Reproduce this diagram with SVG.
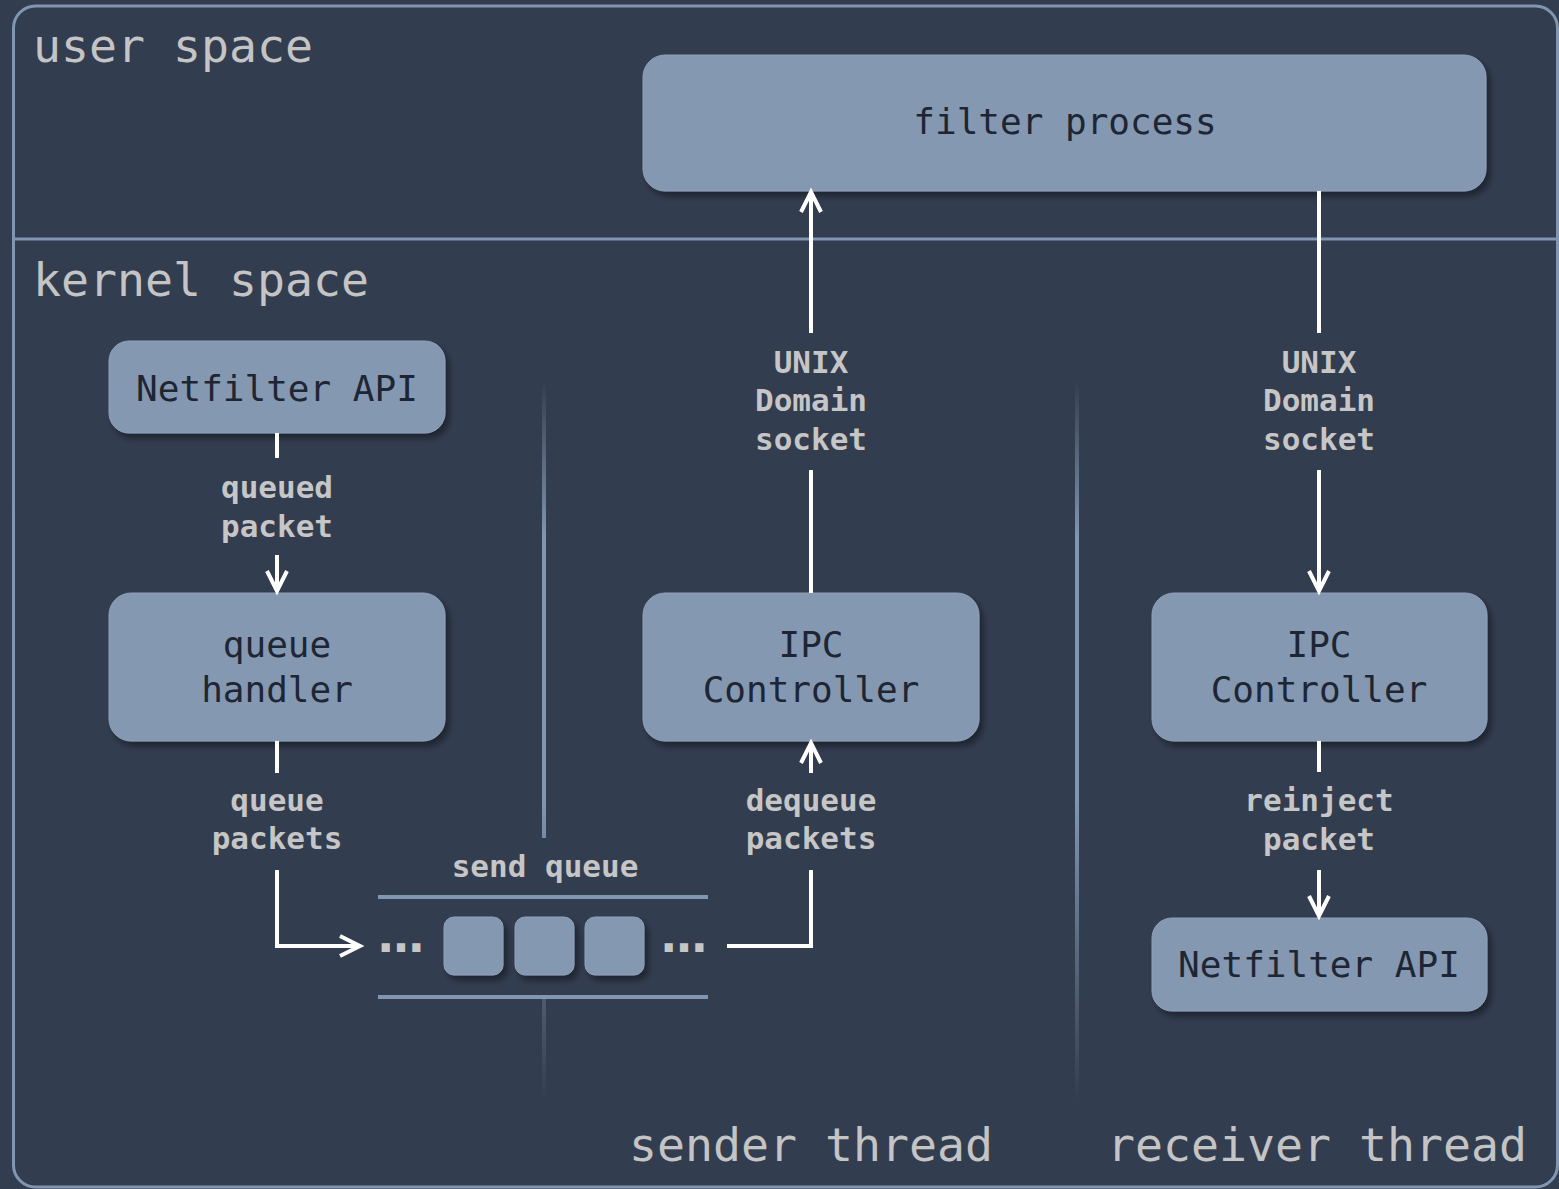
<svg xmlns="http://www.w3.org/2000/svg" width="1559" height="1189" viewBox="0 0 1559 1189">
  <style>
    .frame { fill: none; stroke: #8196b0; stroke-width: 3; }
    .node rect { fill: #8498b1; stroke: #8ea1b8; stroke-width: 1; filter: url(#shadow); }
    .node text { font-family: "DejaVu Sans Mono", "Liberation Mono", monospace; font-size: 36px; fill: #1e2533; text-anchor: middle; }
    .region { font-family: "DejaVu Sans Mono", "Liberation Mono", monospace; font-size: 46.5px; fill: #c4c4c4; }
    .lbl { font-family: "DejaVu Sans Mono", "Liberation Mono", monospace; font-size: 31px; font-weight: bold; fill: #c6c6c6; text-anchor: middle; }
    .dots { font-family: "DejaVu Sans", sans-serif; font-size: 46px; font-weight: bold; fill: #c6c6c6; text-anchor: middle; }
    .edge { fill: none; stroke: #ffffff; stroke-width: 4; }
    .arrow { marker-end: url(#chevron); }
    .qline { stroke: #8196b0; stroke-width: 4; }
    .divider { stroke-width: 4; }
  </style>
  <defs>
    <filter id="shadow" x="-10%" y="-10%" width="130%" height="140%">
      <feDropShadow dx="4" dy="5" stdDeviation="3" flood-color="#000000" flood-opacity="0.4"/>
    </filter>
    <marker id="chevron" markerUnits="userSpaceOnUse" markerWidth="30" markerHeight="30" refX="0" refY="0" orient="auto" overflow="visible">
      <path d="M -20 -10 L 0 0 L -20 10" fill="none" stroke="#ffffff" stroke-width="4" stroke-linejoin="miter"/>
    </marker>
    <linearGradient id="fade" gradientUnits="userSpaceOnUse" x1="0" y1="380" x2="0" y2="1102">
      <stop offset="0" stop-color="#8196b0" stop-opacity="0"/>
      <stop offset="0.22" stop-color="#8196b0" stop-opacity="1"/>
      <stop offset="0.58" stop-color="#8196b0" stop-opacity="1"/>
      <stop offset="1" stop-color="#8196b0" stop-opacity="0"/>
    </linearGradient>
  </defs>

  <!-- background -->
  <rect x="0" y="0" width="1559" height="1189" fill="#333d50"/>

  <!-- outer frame and user/kernel split -->
  <g id="frame">
    <rect class="frame" x="13.5" y="6" width="1544" height="1181" rx="22"/>
    <line class="frame" x1="13.5" y1="239" x2="1559" y2="239"/>
    <text class="region" x="33" y="62">user space</text>
    <text class="region" x="33" y="296">kernel space</text>
    <text class="region" x="629" y="1161">sender thread</text>
    <text class="region" x="1107" y="1161">receiver thread</text>
  </g>

  <!-- thread dividers -->
  <g id="dividers" stroke="url(#fade)">
    <line class="divider" x1="544" y1="380" x2="544" y2="838"/>
    <line class="divider" x1="544" y1="999" x2="544" y2="1102"/>
    <line class="divider" x1="1077" y1="380" x2="1077" y2="1102"/>
  </g>

  <!-- nodes -->
  <g id="filter-process" class="node">
    <rect x="643" y="55" width="843" height="136" rx="22"/>
    <text x="1065" y="134">filter process</text>
  </g>
  <g id="netfilter-in" class="node">
    <rect x="109" y="341" width="336" height="92" rx="20"/>
    <text x="277" y="401">Netfilter API</text>
  </g>
  <g id="queue-handler" class="node">
    <rect x="109" y="593" width="336" height="148" rx="22"/>
    <text x="277" y="657">queue</text>
    <text x="277" y="702">handler</text>
  </g>
  <g id="ipc-sender" class="node">
    <rect x="643" y="593" width="336" height="148" rx="22"/>
    <text x="811" y="657">IPC</text>
    <text x="811" y="702">Controller</text>
  </g>
  <g id="ipc-receiver" class="node">
    <rect x="1152" y="593" width="335" height="148" rx="22"/>
    <text x="1319" y="657">IPC</text>
    <text x="1319" y="702">Controller</text>
  </g>
  <g id="netfilter-out" class="node">
    <rect x="1152" y="918" width="335" height="93" rx="20"/>
    <text x="1319" y="977">Netfilter API</text>
  </g>

  <!-- send queue -->
  <g id="send-queue">
    <text class="lbl" x="545" y="877">send queue</text>
    <line class="qline" x1="378" y1="897" x2="708" y2="897"/>
    <line class="qline" x1="378" y1="997" x2="708" y2="997"/>
    <g class="node">
      <rect x="444" y="917" width="59" height="58" rx="10"/>
      <rect x="515" y="917" width="59" height="58" rx="10"/>
      <rect x="585" y="917" width="59" height="58" rx="10"/>
    </g>
    <text class="dots" x="401" y="952">…</text>
    <text class="dots" x="684" y="952">…</text>
  </g>

  <!-- connectors -->
  <g id="connectors">
    <!-- Netfilter API -> queue handler -->
    <line class="edge" x1="277" y1="433" x2="277" y2="458"/>
    <line class="edge arrow" x1="277" y1="555" x2="277" y2="591"/>
    <text class="lbl" x="277" y="498">queued</text>
    <text class="lbl" x="277" y="537">packet</text>

    <!-- queue handler -> send queue -->
    <line class="edge" x1="277" y1="741" x2="277" y2="773"/>
    <polyline class="edge arrow" points="277,870 277,946 360,946"/>
    <text class="lbl" x="277" y="811">queue</text>
    <text class="lbl" x="277" y="849">packets</text>

    <!-- send queue -> IPC controller (sender) -->
    <polyline class="edge" points="727,946 811,946 811,870"/>
    <line class="edge arrow" x1="811" y1="773" x2="811" y2="743"/>
    <text class="lbl" x="811" y="811">dequeue</text>
    <text class="lbl" x="811" y="849">packets</text>

    <!-- IPC controller (sender) -> filter process -->
    <line class="edge" x1="811" y1="593" x2="811" y2="470"/>
    <line class="edge arrow" x1="811" y1="333" x2="811" y2="192"/>
    <text class="lbl" x="811" y="373">UNIX</text>
    <text class="lbl" x="811" y="411">Domain</text>
    <text class="lbl" x="811" y="450">socket</text>

    <!-- filter process -> IPC controller (receiver) -->
    <line class="edge" x1="1319" y1="191" x2="1319" y2="333"/>
    <line class="edge arrow" x1="1319" y1="470" x2="1319" y2="591"/>
    <text class="lbl" x="1319" y="373">UNIX</text>
    <text class="lbl" x="1319" y="411">Domain</text>
    <text class="lbl" x="1319" y="450">socket</text>

    <!-- IPC controller (receiver) -> Netfilter API -->
    <line class="edge" x1="1319" y1="741" x2="1319" y2="772"/>
    <line class="edge arrow" x1="1319" y1="870" x2="1319" y2="916"/>
    <text class="lbl" x="1319" y="811">reinject</text>
    <text class="lbl" x="1319" y="850">packet</text>
  </g>
</svg>
